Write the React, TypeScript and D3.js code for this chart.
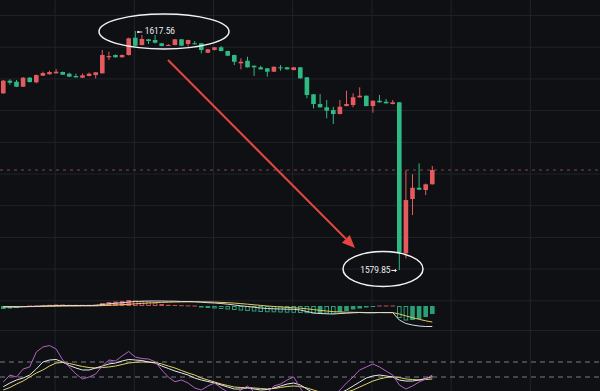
import React from 'react';
import * as d3 from 'd3';

// OHLC (red = up, green = down)
const opens = [1607.73, 1609.72, 1609.56, 1608.77, 1610.19, 1609.46, 1610.5, 1610.73, 1610.88, 1611.09, 1610.82, 1610.46, 1610.19, 1610.46, 1610.61, 1610.88, 1613.41, 1613.77, 1613.41, 1613.77, 1616.5, 1615.35, 1616.25, 1616.14, 1615.62, 1615.24, 1615.35, 1616.25, 1615.51, 1615.62, 1615.62, 1614.13, 1614.56, 1614.99, 1614.4, 1613.77, 1612.46, 1612.87, 1612.08, 1611.83, 1611.67, 1611.14, 1611.83, 1611.83, 1611.4, 1611.83, 1610.25, 1607.57, 1606.04, 1605.52, 1605.09, 1604.46, 1605.72, 1605.88, 1607.1, 1607.35, 1605.72, 1606.56, 1606.4, 1606.04, 1606.31, 1582.48, 1591.05, 1592.83, 1592.47, 1593.37];
const highs = [1609.83, 1609.94, 1609.83, 1610.3, 1610.3, 1610.69, 1611.14, 1611.29, 1611.56, 1611.17, 1610.98, 1610.82, 1610.85, 1611.01, 1611.09, 1614.56, 1614.29, 1613.85, 1613.85, 1616.5, 1617.56, 1616.93, 1616.3, 1616.93, 1615.66, 1615.51, 1616.3, 1616.3, 1616.19, 1615.98, 1615.66, 1614.72, 1615.03, 1615.19, 1614.45, 1613.82, 1613.25, 1613.5, 1612.11, 1612.08, 1611.72, 1611.96, 1612.19, 1611.88, 1611.88, 1611.88, 1610.3, 1607.62, 1607.62, 1606.67, 1605.61, 1606.67, 1608.14, 1607.73, 1608.67, 1607.38, 1606.59, 1607.46, 1606.83, 1606.67, 1606.35, 1595.62, 1594.95, 1596.68, 1593.49, 1596.26];
const lows = [1607.62, 1609.08, 1608.72, 1608.72, 1609.43, 1609.31, 1610.46, 1610.69, 1610.85, 1610.61, 1610.3, 1610.22, 1610.14, 1610.41, 1610.09, 1610.85, 1612.98, 1613.38, 1613.38, 1613.69, 1615.19, 1615.27, 1615.51, 1615.59, 1615.14, 1615.19, 1615.3, 1615.19, 1615.08, 1615.43, 1614.04, 1614.09, 1614.51, 1614.35, 1613.61, 1612.19, 1611.51, 1611.78, 1610.46, 1611.48, 1610.35, 1611.09, 1611.29, 1611.48, 1611.36, 1610.05, 1606.94, 1605.36, 1605.47, 1603.78, 1602.88, 1604.41, 1605.68, 1605.52, 1607.05, 1605.68, 1604.67, 1606.26, 1606.1, 1605.99, 1579.85, 1581.69, 1588.52, 1592.47, 1591.68, 1593.34];
const closes = [1609.72, 1609.4, 1608.77, 1610.19, 1609.51, 1610.61, 1610.93, 1611.09, 1611.14, 1610.66, 1610.35, 1610.25, 1610.57, 1610.82, 1611.04, 1613.77, 1613.61, 1613.41, 1613.77, 1616.41, 1615.24, 1616.3, 1615.98, 1615.71, 1615.19, 1615.35, 1616.25, 1615.24, 1616.14, 1615.46, 1614.56, 1614.67, 1614.99, 1614.4, 1613.66, 1612.71, 1612.71, 1611.83, 1611.83, 1611.51, 1611.14, 1611.92, 1611.67, 1611.51, 1611.83, 1610.09, 1607.46, 1606.04, 1605.52, 1604.98, 1604.46, 1605.61, 1606.04, 1607.1, 1607.35, 1605.72, 1606.56, 1606.31, 1606.15, 1606.31, 1582.61, 1590.89, 1592.83, 1592.52, 1593.37, 1595.62];

// MACD panel
const macdHist = [-0.3, -0.25, -0.2, -0.05, 0.05, 0.05, 0.08, 0.12, 0.15, 0.15, 0.12, 0.12, 0.12, 0.12, 0.15, 0.3, 0.4, 0.45, 0.5, 0.6, 0.55, 0.5, 0.45, 0.35, 0.2, 0.12, 0.1, 0.08, 0.06, 0.05, -0.15, -0.2, -0.25, -0.3, -0.35, -0.4, -0.45, -0.5, -0.55, -0.6, -0.62, -0.63, -0.65, -0.67, -0.68, -0.7, -0.72, -0.75, -0.75, -0.76, -0.78, -0.6, -0.5, -0.35, -0.25, -0.15, -0.1, 0.05, 0.05, 0.05, -1.2, -1.45, -1.4, -1.3, -1.1, -0.8];
const macdDif = [-0.1, -0.1, -0.1, -0.08, -0.05, -0.03, 0, 0.02, 0.04, 0.05, 0.05, 0.05, 0.05, 0.05, 0.06, 0.15, 0.22, 0.28, 0.32, 0.4, 0.45, 0.48, 0.5, 0.5, 0.5, 0.48, 0.48, 0.45, 0.45, 0.43, 0.38, 0.33, 0.3, 0.25, 0.18, 0.1, 0.02, -0.05, -0.12, -0.2, -0.25, -0.28, -0.3, -0.32, -0.33, -0.4, -0.55, -0.7, -0.75, -0.78, -0.8, -0.75, -0.72, -0.68, -0.65, -0.68, -0.68, -0.66, -0.66, -0.66, -1.4, -1.75, -1.9, -2, -2.05, -2.05];
const macdDea = [-0.05, -0.05, -0.06, -0.06, -0.06, -0.05, -0.04, -0.03, -0.02, -0.01, 0, 0, 0.01, 0.01, 0.02, 0.04, 0.07, 0.1, 0.13, 0.17, 0.22, 0.26, 0.3, 0.33, 0.36, 0.38, 0.4, 0.41, 0.42, 0.42, 0.42, 0.41, 0.39, 0.36, 0.33, 0.29, 0.24, 0.18, 0.12, 0.06, 0, -0.05, -0.1, -0.14, -0.18, -0.22, -0.28, -0.36, -0.44, -0.5, -0.56, -0.6, -0.62, -0.63, -0.64, -0.65, -0.65, -0.65, -0.66, -0.66, -0.8, -0.99, -1.17, -1.33, -1.48, -1.6];

// oscillator panel (K, D, J)
const oscK = [13.8, 20, 25, 28.3, 33.3, 43.3, 55, 58.3, 59.2, 55, 49.2, 45, 41.7, 41.7, 45, 48.3, 51.7, 53.3, 56.7, 59.2, 58.3, 57.5, 55, 53.3, 48.3, 44.2, 40, 36.7, 33.3, 28.3, 25, 22.5, 20, 16.7, 13.3, 10, 10, 11.7, 10, 8.3, 9.2, 11.7, 15, 18.3, 20, 16.7, 10, 3.3, 0, -1.7, 0, 3.3, 8.3, 15, 21.7, 28.3, 31.7, 33.3, 31.7, 30, 25, 23.3, 23.3, 25, 27.5, 30.5];
const oscD = [8.3, 12.5, 18.3, 23.3, 30, 36.7, 41.7, 48.3, 53.3, 54.2, 52.5, 50, 47.5, 45.8, 45, 45.8, 46.7, 48.3, 50.8, 53.3, 54.5, 55, 55, 54.2, 51.7, 48.3, 45, 40.8, 36.7, 33.3, 28.3, 25, 21.7, 18.3, 15.8, 13.3, 12.5, 12.5, 11.7, 10.8, 10, 10.8, 12.5, 14.2, 15, 14.2, 11.7, 8.3, 5, 2.5, 1.7, 2.5, 5, 8.3, 13.3, 18.3, 23.3, 26.7, 29.2, 30.5, 29.2, 26.7, 25.8, 25, 25.8, 26.7];
const oscJ = [21.7, 33.3, 30, 43.3, 46.7, 71.7, 80, 82.5, 76.7, 58.3, 46.7, 35, 26.7, 30, 35, 48.3, 58.3, 56.7, 65, 72.5, 63.3, 60.8, 60, 55.5, 41.7, 30, 22.2, 25, 20, 11.7, 8.3, 15, 20, 11.7, 5, 1.7, 8.3, 15, 5, 0, 3.3, 15, 18.3, 25, 30, 11.7, -5, -11.7, -8.3, -5, -1.7, 8.3, 20, 30, 41.7, 46.7, 51.7, 46.7, 40, 33.3, 16.7, 10, 15, 21.7, 26.7, 33.3];
const oscLevels = [55, 30];

const priceTicks = [1620, 1615, 1610, 1605, 1600, 1595, 1590, 1585, 1580, 1575];
const highLabel = '1617.56';
const lowLabel = '1579.85';

const RED = '#e45b5f';
const GREEN = '#2fb985';

export default function App() {
  const n = closes.length;
  const x = d3.scaleLinear().domain([0, n - 1]).range([3.3, 432.3]);
  const y = d3.scaleLinear().domain([1579.85, 1617.56]).range([270, 31]);
  const ym = d3.scaleLinear().domain([-2, 1]).range([326, 296]);
  const yo = d3.scaleLinear().domain([0, 100]).range([395, 335]);
  const bw = 4.6;

  const vGrid = d3.range(7.85, 100, 12).map((i) => x(i)).filter((v) => v < 600);

  const difLine = d3.line<number>().x((_, i) => x(i)).y((d) => ym(d));
  const oscLine = d3.line<number>().x((_, i) => x(i)).y((d) => yo(d));

  const hiIdx = d3.maxIndex(highs);
  const loIdx = d3.minIndex(lows);
  const hx = x(hiIdx);
  const hy = y(highs[hiIdx]);
  const lx = x(loIdx);
  const ly = y(lows[loIdx]);

  // annotation arrow
  const a0 = [168, 60];
  const a1 = [355, 248];
  const ang = Math.atan2(a1[1] - a0[1], a1[0] - a0[0]);
  const hl = 13, hw = 5.5;
  const bx = a1[0] - hl * Math.cos(ang), by = a1[1] - hl * Math.sin(ang);
  const head = [
    [a1[0], a1[1]],
    [bx + hw * Math.sin(ang), by - hw * Math.cos(ang)],
    [bx - hw * Math.sin(ang), by + hw * Math.cos(ang)],
  ].map((p) => p.join(',')).join(' ');

  const lastClose = closes[n - 1];

  return (
    <svg width={600} height={391} style={{ position: 'absolute', left: 0, top: 0, display: 'block' }}
      fontFamily="Roboto, 'Noto Sans', sans-serif">
      <rect width={600} height={391} fill="#0f1014" />

      {/* grid */}
      {vGrid.map((gx, i) => (
        <line key={'v' + i} x1={gx} x2={gx} y1={0} y2={391} stroke="#202329" strokeWidth={1} />
      ))}
      {priceTicks.map((p) => (
        <line key={'h' + p} x1={0} x2={600} y1={y(p)} y2={y(p)} stroke="#202329" strokeWidth={1} />
      ))}
      <line x1={0} x2={600} y1={330.5} y2={330.5} stroke="#202329" strokeWidth={1} />

      {/* last price line */}
      <line x1={0} x2={600} y1={y(lastClose)} y2={y(lastClose)} stroke="#7d4747" strokeWidth={1} strokeDasharray="3,4" />

      {/* candles */}
      {closes.map((c, i) => {
        const o = opens[i];
        const up = c >= o;
        const col = up ? RED : GREEN;
        const top = y(Math.max(o, c));
        const h = Math.max(1, Math.abs(y(o) - y(c)));
        return (
          <g key={'c' + i}>
            <line x1={x(i)} x2={x(i)} y1={y(highs[i])} y2={y(lows[i])} stroke={col} strokeWidth={1} />
            <rect x={x(i) - bw / 2} y={top} width={bw} height={h} fill={col} />
          </g>
        );
      })}

      {/* MACD histogram */}
      {macdHist.map((v, i) => {
        const prev = i > 0 ? macdHist[i - 1] : v;
        const filled = v >= prev;
        const col = v >= 0 ? RED : GREEN;
        const y0 = ym(0);
        const y1 = ym(v);
        const top = Math.min(y0, y1);
        const h = Math.max(1, Math.abs(y1 - y0));
        return filled || h < 2 ? (
          <rect key={'m' + i} x={x(i) - bw / 2} y={top} width={bw} height={h} fill={col} opacity={0.85} />
        ) : (
          <rect key={'m' + i} x={x(i) - bw / 2 + 0.5} y={top + 0.5} width={bw - 1} height={h - 1} fill="none" stroke={col} strokeWidth={1} opacity={0.85} />
        );
      })}
      <path d={difLine(macdDea) || ''} fill="none" stroke="#e3c860" strokeWidth={1} />
      <path d={difLine(macdDif) || ''} fill="none" stroke="#dcdcdc" strokeWidth={1} />

      {/* oscillator */}
      {oscLevels.map((v) => (
        <line key={'o' + v} x1={0} x2={600} y1={yo(v)} y2={yo(v)} stroke="#7a7c82" strokeWidth={1} strokeDasharray="5,4" />
      ))}
      <path d={oscLine(oscD) || ''} fill="none" stroke="#e2d36b" strokeWidth={1} />
      <path d={oscLine(oscK) || ''} fill="none" stroke="#e8e8e8" strokeWidth={1} />
      <path d={oscLine(oscJ) || ''} fill="none" stroke="#b562c4" strokeWidth={1} />

      {/* annotations */}
      <path d={`M${hx + 2},${hy + 1}H${hx + 7}`} stroke="#e8e8e8" strokeWidth={1} />
      <rect x={hx + 2} y={hy} width={2} height={2} fill="#e8e8e8" />
      <text x={hx + 9.5} y={hy + 3} fontSize={8.3} fill="#f0f0f0">{highLabel}</text>
      <ellipse cx={164} cy={31.5} rx={65} ry={17.5} fill="none" stroke="#f2f2f2" strokeWidth={1.5} />

      <text x={lx - 39} y={ly + 3} fontSize={8.3} fill="#f0f0f0">{lowLabel}</text>
      <path d={`M${lx - 8},${ly + 0.5}H${lx - 3}`} stroke="#e8e8e8" strokeWidth={1} />
      <path d={`M${lx - 4.5},${ly - 1}L${lx - 3},${ly + 0.5}L${lx - 4.5},${ly + 2}`} stroke="#e8e8e8" strokeWidth={1} fill="none" />
      <ellipse cx={383} cy={269} rx={40} ry={17.5} fill="none" stroke="#f2f2f2" strokeWidth={1.5} />

      <line x1={a0[0]} y1={a0[1]} x2={bx} y2={by} stroke="#e2463f" strokeWidth={2} />
      <polygon points={head} fill="#e2463f" />
    </svg>
  );
}
